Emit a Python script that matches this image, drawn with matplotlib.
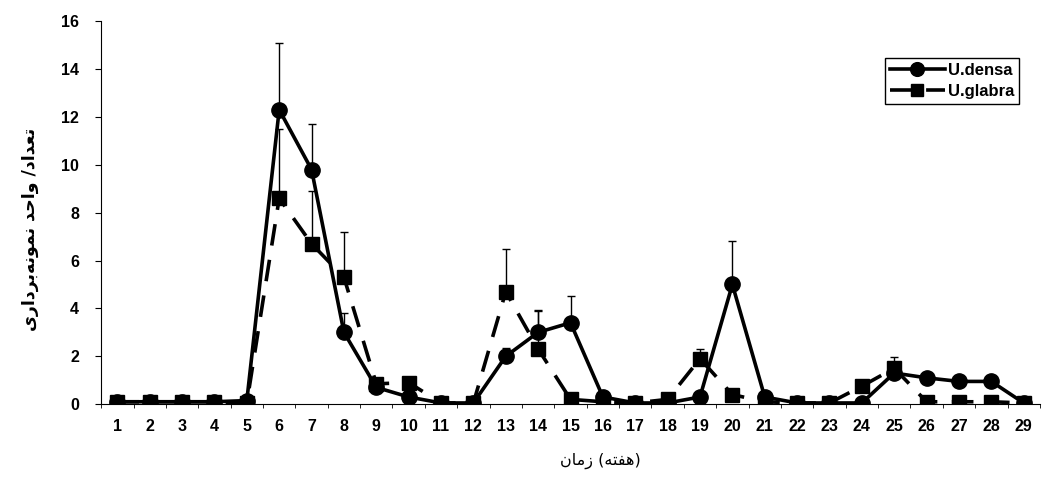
import matplotlib
matplotlib.use("Agg")
import matplotlib.pyplot as plt
import numpy as np

# weeks and counts per sampling unit
weeks = list(range(1, 30))
densa = [0.1, 0.1, 0.1, 0.1, 0.15, 12.3, 9.8, 3.0, 0.7, 0.3, 0.05, 0.05, 2.0, 3.0,
         3.4, 0.3, 0.05, 0.05, 0.3, 5.0, 0.3, 0.05, 0.05, 0.05, 1.3, 1.1, 0.95, 0.95, 0.05]
glabra = [0.1, 0.1, 0.1, 0.1, 0.05, 8.6, 6.7, 5.3, 0.85, 0.9, 0.05, 0.05, 4.7, 2.3,
          0.2, 0.1, 0.05, 0.2, 1.9, 0.4, 0.1, 0.05, 0.05, 0.75, 1.5, 0.1, 0.1, 0.1, 0.05]
# upper error (standard error) only
densa_err = [0, 0, 0, 0, 0, 2.8, 1.9, 0.8, 0, 0, 0, 0, 0.35, 0.95,
             1.1, 0, 0, 0, 0, 1.8, 0, 0, 0, 0, 0, 0, 0, 0, 0]
glabra_err = [0, 0, 0, 0, 0, 2.9, 2.2, 1.9, 0, 0, 0, 0, 1.8, 1.6,
              0, 0, 0, 0, 0.4, 0, 0, 0, 0, 0, 0.45, 0, 0, 0, 0]

yticks = [0, 2, 4, 6, 8, 10, 12, 14, 16]

# very small arabic-script shaper (matplotlib has no shaping / bidi)
FORMS = {  # iso, fin, ini, med
    'ا': ('\uFE8D', '\uFE8E', None, None),
    'د': ('\uFEA9', '\uFEAA', None, None),
    'ر': ('\uFEAD', '\uFEAE', None, None),
    'ز': ('\uFEAF', '\uFEB0', None, None),
    'و': ('\uFEED', '\uFEEE', None, None),
    'ی': ('\uFEEF', '\uFEF0', '\uFEF3', '\uFEF4'),
    'ت': ('\uFE95', '\uFE96', '\uFE97', '\uFE98'),
    'ع': ('\uFEC9', '\uFECA', '\uFECB', '\uFECC'),
    'ح': ('\uFEA1', '\uFEA2', '\uFEA3', '\uFEA4'),
    'ن': ('\uFEE5', '\uFEE6', '\uFEE7', '\uFEE8'),
    'م': ('\uFEE1', '\uFEE2', '\uFEE3', '\uFEE4'),
    'ه': ('\uFEE9', '\uFEEA', '\uFEEB', '\uFEEC'),
    'ب': ('\uFE8F', '\uFE90', '\uFE91', '\uFE92'),
    'ف': ('\uFED1', '\uFED2', '\uFED3', '\uFED4'),
}


def shape_word(w):
    out = []
    for i, c in enumerate(w):
        if c not in FORMS:
            if c != '\u200c':
                out.append(c)
            continue
        prev = w[i - 1] if i > 0 else ''
        nxt = w[i + 1] if i + 1 < len(w) else ''
        join_prev = prev in FORMS and FORMS[prev][2] is not None
        join_next = nxt in FORMS and FORMS[c][2] is not None
        iso, fin, ini, med = FORMS[c]
        if join_prev and join_next:
            out.append(med)
        elif join_prev:
            out.append(fin)
        elif join_next:
            out.append(ini)
        else:
            out.append(iso)
    return ''.join(out[::-1])


def rtl(s):
    # reverse word order, shape each word
    return ' '.join(shape_word(w) for w in s.split(' ')[::-1])


xlab = shape_word('زمان') + ' (' + shape_word('هفته') + ')'
ylab = rtl('تعداد/ واحد نمونه\u200cبرداری')

plt.rcParams['font.family'] = ['Liberation Sans', 'DejaVu Sans']

fig = plt.figure(figsize=(10.43, 4.8), dpi=100)
ax = fig.add_axes([0.097, 0.158, 0.9, 0.798])

ax.errorbar(weeks, densa, yerr=[np.zeros(len(densa)), densa_err], fmt='none',
            ecolor='black', elinewidth=1, capsize=3, capthick=1, zorder=1)
ax.errorbar(weeks, glabra, yerr=[np.zeros(len(glabra)), glabra_err], fmt='none',
            ecolor='black', elinewidth=1, capsize=3, capthick=1, zorder=1)

ax.plot(weeks, densa, color='black', lw=2.6, marker='o', ms=11,
        label='U.densa', zorder=3)
ax.plot(weeks, glabra, color='black', lw=2.6, ls=(0, (6, 4)), marker='s', ms=10,
        label='U.glabra', zorder=4)

ax.set_xlim(0.5, 29.5)
ax.set_ylim(0, 16)
ax.set_xticks(weeks)
ax.set_xticks(np.arange(0.5, 30, 1), minor=True)
ax.set_yticks(yticks)
ax.tick_params(axis='x', which='major', length=0, pad=11, labelsize=11.5)
ax.tick_params(axis='x', which='minor', length=3, direction='out')
ax.tick_params(axis='y', length=4, direction='out', labelsize=11.5, pad=12)
for lab in ax.get_xticklabels() + ax.get_yticklabels():
    lab.set_fontweight('bold')

for s in ['top', 'right']:
    ax.spines[s].set_visible(False)

fig.text(600 / 1043, 1 - 461 / 480, xlab, family='DejaVu Sans', fontsize=11.5,
         ha='center', va='center')
fig.text(30 / 1043, 1 - 229 / 480, ylab, family='DejaVu Sans', fontsize=12.5,
         fontweight='bold', rotation=90, ha='center', va='center')

leg = ax.legend(loc='upper right', bbox_to_anchor=(0.978, 0.903), borderaxespad=0,
                fancybox=False, edgecolor='black', framealpha=1, handlelength=3.3,
                prop={'weight': 'bold', 'size': 12}, borderpad=0.3,
                labelspacing=0.35, handletextpad=0.2, markerscale=0.9)
leg.get_frame().set_linewidth(1)

fig.savefig('out.png', dpi=100)
